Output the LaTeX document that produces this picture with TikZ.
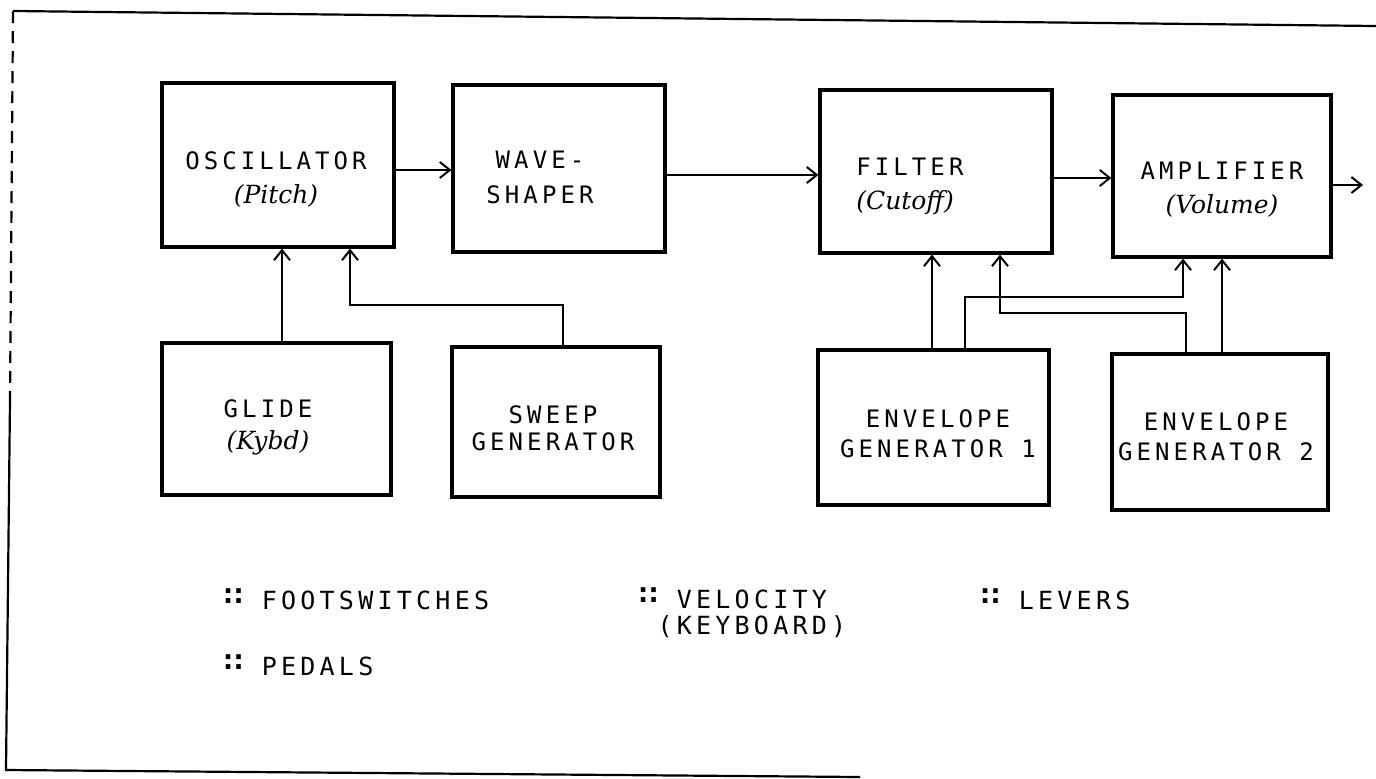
\documentclass[tikz,border=0pt]{standalone}
\usepackage{fontspec}
\usetikzlibrary{arrows.meta, positioning, calc}
\newfontfamily\gothic[LetterSpace=17]{DejaVu Sans Mono}
\newfontfamily\serifit{DejaVu Serif}
\newfontfamily\symfont{DejaVu Sans}
\newcommand{\itl}[1]{{\serifit\itshape\fontsize{12.5}{17}\selectfont #1}}
\newcommand{\dotsym}{\raisebox{2pt}{\symfont\bfseries\fontsize{13}{13}\selectfont ∷}}

\begin{document}
\begin{tikzpicture}[x=0.5pt, y=-0.5pt,
   blk/.style={rectangle, draw=black, line width=1.6pt, inner sep=0pt},
   txt/.style={font=\fontsize{12}{17}\gothic, align=center, inner sep=0pt},
   conn/.style={draw=black, line width=1pt,
                -{Straight Barb[length=5pt, width=8pt]}},
   frame/.style={draw=black, line width=1.1pt},
   leg/.style={font=\fontsize{12.5}{13}\gothic, align=left, anchor=west,
               inner sep=0pt}]
\useasboundingbox (0,0) rectangle (1376,778);

% open frame round the chart
\draw[frame] (13,11) -- (1376,26);
\draw[frame, dash pattern=on 6pt off 4pt] (13,11) -- (10,400);
\draw[frame] (10,400) -- (6,770) -- (860,777);

% signal chain
\node[blk, minimum width=116pt, minimum height=82pt] (osc) at (278,165) {};
\node[blk, minimum width=106pt, minimum height=83.5pt] (wave) at (559,168.5) {};
\node[blk, minimum width=116pt, minimum height=81.5pt] (filt) at (936,171.5) {};
\node[blk, minimum width=109pt, minimum height=81pt] (amp) at (1222,176) {};

% modulators
\node[blk, minimum width=114.5pt, minimum height=76pt] (glide) at (276.5,419) {};
\node[blk, minimum width=104pt, minimum height=75pt] (sweep) at (556,422) {};
\node[blk, minimum width=115.5pt, minimum height=77.5pt] (env1) at (933.5,427.5) {};
\node[blk, minimum width=108pt, minimum height=78pt] (env2) at (1220,432) {};

% box texts
\node[txt] (osc-t) at (276,180) {OSCILLATOR\\\itl{(Pitch)}};
\node[txt, font=\fontsize{12}{17.5}\gothic] (wave-t) at (540,177) {WAVE-\\SHAPER};
\node[txt, align=left, anchor=west] (filt-t) at (856,186) {FILTER\\\itl{(Cutoff)}};
\node[txt] (amp-t) at (1222,190) {AMPLIFIER\\\itl{(Volume)}};
\node[txt, font=\fontsize{12}{16}\gothic] (glide-t) at (268,427) {GLIDE\\\itl{(Kybd)}};
\node[txt, font=\fontsize{12}{13.5}\gothic] (sweep-t) at (553,428) {SWEEP\\GENERATOR};
\node[txt, font=\fontsize{12}{15}\gothic] (env1-t) at (938,434) {ENVELOPE\\GENERATOR 1};
\node[txt, font=\fontsize{12}{15}\gothic] (env2-t) at (1216,437) {ENVELOPE\\GENERATOR 2};

% audio path
\draw[conn] (osc.east |- 0,170) -- (wave.west |- 0,170);
\draw[conn] (wave.east |- 0,175) -- (filt.west |- 0,175);
\draw[conn] (filt.east |- 0,178) -- (amp.west |- 0,178);
\coordinate (out) at (1363,185);
\draw[conn] (amp.east |- out) -- (out);

% control paths
\draw[conn] (glide.north -| 282,0) -- (osc.south -| 282,0);
\draw[conn] (sweep.north -| 563,0) -- (563,305) -| (osc.south -| 350,0);
\draw[conn] (env1.north -| 932,0) -- (filt.south -| 932,0);
\draw[conn] (env1.north -| 965,0) -- (965,297) -| (amp.south -| 1183,0);
\draw[conn] (env2.north -| 1186,0) -- (1186,313) -| (filt.south -| 1000,0);
\draw[conn] (env2.north -| 1222,0) -- (amp.south -| 1222,0);

% legend
\node[leg] (leg-foot) at (224,599) {\dotsym\ FOOTSWITCHES};
\node[leg] (leg-pedal) at (224,665) {\dotsym\ PEDALS};
\node[leg, font=\fontsize{12.5}{13}\gothic] (leg-vel) at (639,613)
     {\dotsym\ VELOCITY\\\phantom{\dotsym}(KEYBOARD)};
\node[leg] (leg-lev) at (981,599) {\dotsym\ LEVERS};
\end{tikzpicture}
\end{document}
